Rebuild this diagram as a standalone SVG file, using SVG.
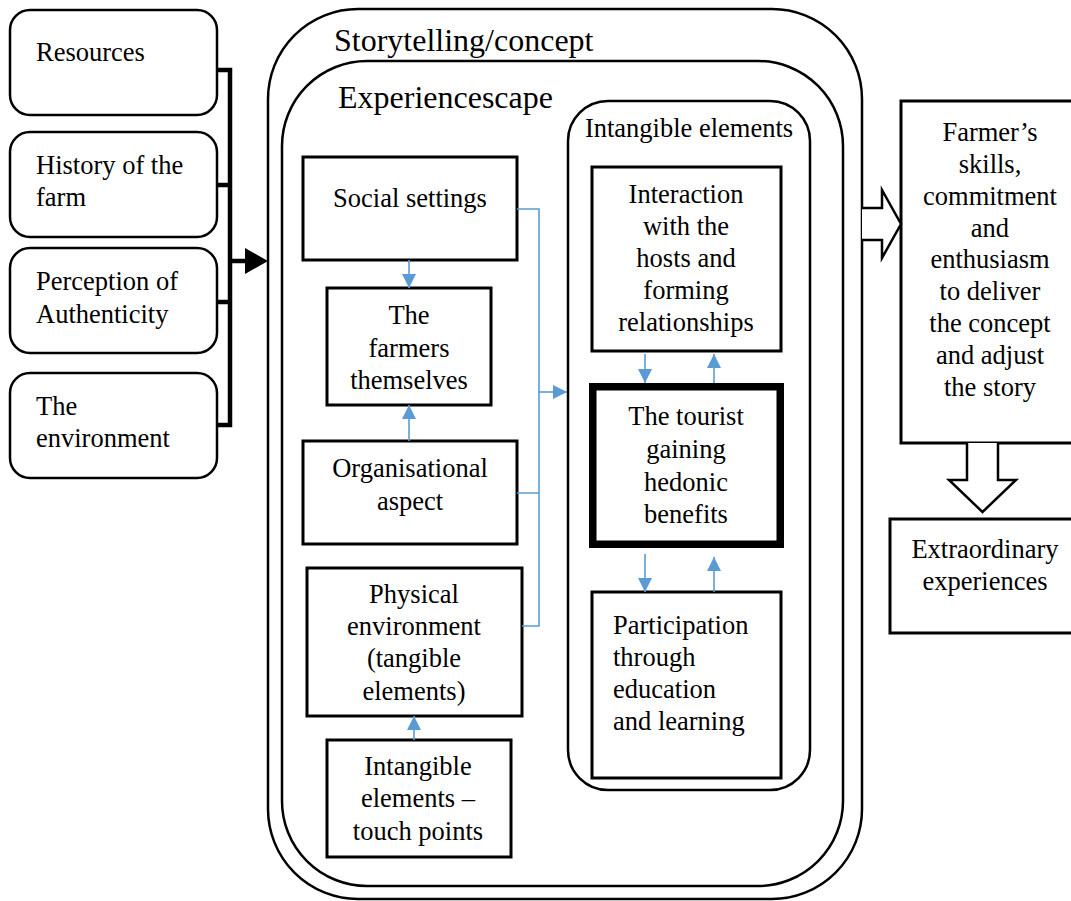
<svg xmlns="http://www.w3.org/2000/svg" width="1071" height="901" viewBox="0 0 1071 901" font-family="'Liberation Serif', 'Times New Roman', 'DejaVu Serif', serif">
<defs>
<style>
text{font-family:'Liberation Serif','Times New Roman','DejaVu Serif',serif;font-size:26.5px;fill:#000}
.t{font-size:32px}
.c{text-anchor:middle}
.rb{fill:#fff;stroke:#000;stroke-width:2.5}
.bx{fill:#fff;stroke:#000;stroke-width:3}
.ct{fill:none;stroke:#000;stroke-width:2.5}
.bl{fill:none;stroke:#5B9BD5;stroke-width:1.6}
.bk{fill:none;stroke:#000;stroke-width:4.5}
.ha{fill:#fff;stroke:#000;stroke-width:2.5;stroke-linejoin:miter}
</style>
<marker id="ba" viewBox="0 0 14 14" refX="14" refY="7" markerWidth="14" markerHeight="14" markerUnits="userSpaceOnUse" orient="auto">
<path d="M0,0 L14,7 L0,14 Z" fill="#5B9BD5"/>
</marker>
</defs>
<rect width="1071" height="901" fill="#fff"/>

<g id="storytelling">
<rect class="ct" x="268" y="9" width="594" height="890" rx="90" ry="90"/>
<text class="t" x="334" y="51">Storytelling/concept</text>
</g>
<g id="experiencescape">
<rect class="ct" x="282" y="61" width="561" height="825" rx="85" ry="85"/>
<text class="t" x="338" y="108">Experiencescape</text>
</g>
<g id="intangible-container">
<rect class="ct" x="568" y="101" width="242" height="689" rx="40" ry="40"/>
<text class="c" x="689" y="137">Intangible elements</text>
</g>

<g id="resources">
<rect class="rb" x="10" y="10" width="207" height="105" rx="20"/>
<text x="36" y="61">Resources</text>
</g>
<g id="history">
<rect class="rb" x="10" y="132" width="207" height="105" rx="20"/>
<text x="36" y="174">History of the</text>
<text x="36" y="206">farm</text>
</g>
<g id="perception">
<rect class="rb" x="10" y="248" width="207" height="105" rx="20"/>
<text x="36" y="290">Perception of</text>
<text x="36" y="323">Authenticity</text>
</g>
<g id="environment">
<rect class="rb" x="10" y="373" width="207" height="105" rx="20"/>
<text x="36" y="415">The</text>
<text x="36" y="447">environment</text>
</g>

<g id="social">
<rect class="bx" x="303" y="157" width="214" height="103"/>
<text class="c" x="410" y="207">Social settings</text>
</g>
<g id="farmers">
<rect class="bx" x="327" y="288" width="164" height="117"/>
<text class="c" x="409" y="324">The</text>
<text class="c" x="409" y="357">farmers</text>
<text class="c" x="409" y="389">themselves</text>
</g>
<g id="organisational">
<rect class="bx" x="303" y="441" width="214" height="103"/>
<text class="c" x="410" y="477">Organisational</text>
<text class="c" x="410" y="510">aspect</text>
</g>
<g id="physical">
<rect class="bx" x="307" y="568" width="215" height="148"/>
<text class="c" x="414" y="603">Physical</text>
<text class="c" x="414" y="635">environment</text>
<text class="c" x="414" y="667">(tangible</text>
<text class="c" x="414" y="700">elements)</text>
</g>
<g id="touchpoints">
<rect class="bx" x="327" y="740" width="184" height="117"/>
<text class="c" x="418" y="775">Intangible</text>
<text class="c" x="418" y="807">elements –</text>
<text class="c" x="418" y="840">touch points</text>
</g>

<g id="interaction">
<rect class="bx" x="592" y="167" width="189" height="184"/>
<text class="c" x="686" y="203">Interaction</text>
<text class="c" x="686" y="235">with the</text>
<text class="c" x="686" y="267">hosts and</text>
<text class="c" x="686" y="299">forming</text>
<text class="c" x="686" y="331">relationships</text>
</g>
<g id="tourist">
<rect x="592.75" y="386.75" width="187.5" height="157.5" fill="#fff" stroke="#000" stroke-width="7.5"/>
<text class="c" x="686" y="425">The tourist</text>
<text class="c" x="686" y="458">gaining</text>
<text class="c" x="686" y="491">hedonic</text>
<text class="c" x="686" y="523">benefits</text>
</g>
<g id="participation">
<rect class="bx" x="592" y="592" width="189" height="186"/>
<text x="613" y="634">Participation</text>
<text x="613" y="666">through</text>
<text x="613" y="698">education</text>
<text x="613" y="730">and learning</text>
</g>

<g id="farmer-skills">
<rect class="bx" x="901" y="101" width="180" height="342"/>
<text class="c" x="990" y="141">Farmer’s</text>
<text class="c" x="990" y="173">skills,</text>
<text class="c" x="990" y="205">commitment</text>
<text class="c" x="990" y="237">and</text>
<text class="c" x="990" y="268">enthusiasm</text>
<text class="c" x="990" y="300">to deliver</text>
<text class="c" x="990" y="332">the concept</text>
<text class="c" x="990" y="364">and adjust</text>
<text class="c" x="990" y="396">the story</text>
</g>
<g id="extraordinary">
<rect class="bx" x="890" y="519" width="190" height="114"/>
<text class="c" x="985" y="558">Extraordinary</text>
<text class="c" x="985" y="590">experiences</text>
</g>

<g id="connectors">
<path class="bk" d="M217,70 H230 V425 H217 M217,185 H230 M217,302 H230"/>
<path d="M230,261 H247" stroke="#000" stroke-width="4.5"/>
<path d="M245,248 L268,261 L245,274 Z" fill="#000"/>

<path class="ha" d="M862,208 H882 V190 L901,224 L882,258 V240 H862"/>
<path class="ha" d="M967,443 V480 H949 L982.5,512 L1016,480 H998 V443"/>

<path class="bl" d="M409,260 V288" marker-end="url(#ba)"/>
<path class="bl" d="M409,441 V405" marker-end="url(#ba)"/>
<path class="bl" d="M414,740 V716" marker-end="url(#ba)"/>
<path class="bl" d="M517,209 H539 V626 H522 M517,493 H539"/>
<path class="bl" d="M539,392 H567" marker-end="url(#ba)"/>
<path class="bl" d="M645,354 V383" marker-end="url(#ba)"/>
<path class="bl" d="M714,383 V354" marker-end="url(#ba)"/>
<path class="bl" d="M645,554 V592" marker-end="url(#ba)"/>
<path class="bl" d="M714,592 V557" marker-end="url(#ba)"/>
</g>
</svg>
